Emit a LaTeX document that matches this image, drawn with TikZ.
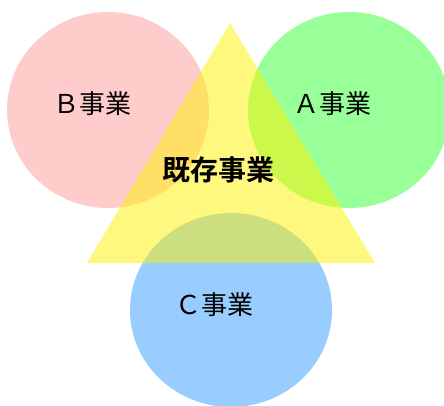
\documentclass[tikz,border=0pt]{standalone}
\usepackage{fontspec}
\newfontfamily\jp{Noto Sans CJK JP}
\newfontfamily\jpb{Noto Sans CJK JP Bold}
\begin{document}
\begin{tikzpicture}[x=1pt,y=-1pt,
  lbl/.style={font=\jp\fontsize{26}{26}\selectfont, inner sep=0pt},
  mainlbl/.style={font=\jpb\fontsize{28}{28}\selectfont, inner sep=0pt}]
\useasboundingbox (0,0) rectangle (444,406);
\definecolor{cB}{RGB}{255,204,204}
\definecolor{cA}{RGB}{153,255,153}
\definecolor{cC}{RGB}{153,204,255}
\fill[cB] (108,110) ellipse [x radius=101, y radius=98];
\fill[cA] (349,110) ellipse [x radius=101, y radius=98];
\fill[cC] (231,310) ellipse [x radius=101, y radius=97];
\fill[yellow, fill opacity=0.5] (230,23) -- (375,263) -- (87,263) -- cycle;
\node[lbl] (b) at (92,104) {Ｂ事業};
\node[lbl] (a) at (332,104) {Ａ事業};
\node[lbl] (c) at (214,305) {Ｃ事業};
\node[mainlbl] (m) at (218,170) {既存事業};
\end{tikzpicture}
\end{document}
